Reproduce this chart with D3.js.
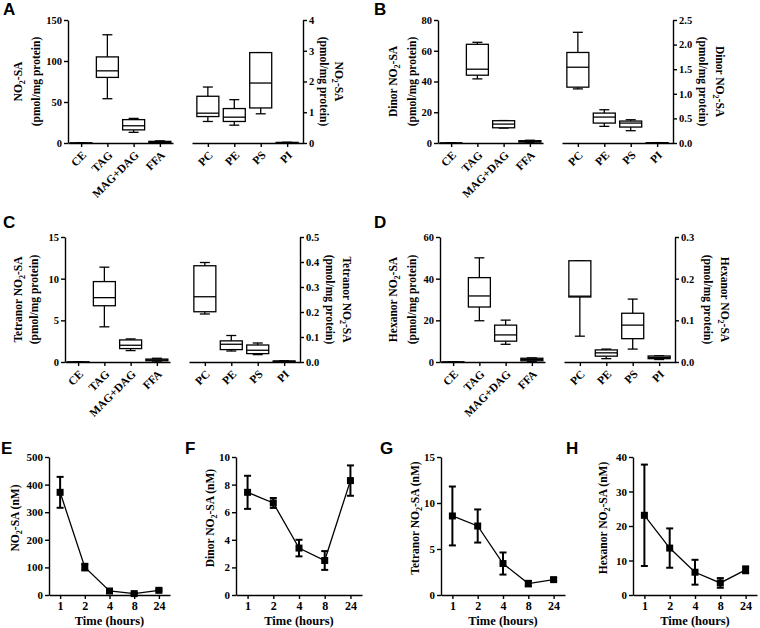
<!DOCTYPE html>
<html>
<head>
<meta charset="utf-8">
<script src="https://cdn.jsdelivr.net/npm/d3@7"></script>
<style>
  body { margin: 0; background: #fff; }
  text { font-family: "Liberation Serif", "Times New Roman", serif; font-weight: bold; fill: #000; }
  .letter { font-family: "Liberation Sans", Arial, sans-serif; font-size: 17px; font-weight: bold; }
  .axis path, .axis line { stroke: #000; stroke-width: 1.4px; }
</style>
</head>
<body>
<script>
// ---------------- DATA ----------------
const neutralCats = ["CE", "TAG", "MAG+DAG", "FFA"];
const phosphoCats = ["PC", "PE", "PS", "PI"];

// box stats: [min, q1, median, q3, max]
const aNeutral  = [[0,0,0,0,0],[54,80,88,105,132],[13,16,21,28.5,30],[0.3,0.8,1.3,2.0,2.6]];
const aPhospho  = [[0.70,0.86,0.97,1.52,1.82],[0.58,0.70,0.84,1.12,1.41],[0.95,1.14,1.95,2.94,2.94],[0,0.005,0.01,0.02,0.025]];
const bNeutral  = [[0,0,0,0,0],[41.7,44.1,48,64.2,65.5],[9.7,9.9,12.3,14.5,14.6],[0.3,0.6,1.0,1.5,1.8]];
const bPhospho  = [[1.10,1.135,1.54,1.84,2.25],[0.338,0.405,0.527,0.608,0.676],[0.25,0.324,0.405,0.446,0.473],[0,0,0.003,0.005,0.008]];
const cNeutral  = [[0,0,0,0,0],[4.22,6.75,7.72,9.65,11.38],[1.37,1.61,2.01,2.65,2.77],[0.1,0.15,0.25,0.35,0.45]];
const cPhospho  = [[0.192,0.201,0.261,0.385,0.398],[0.044,0.0496,0.071,0.0845,0.106],[0.0295,0.0335,0.047,0.068,0.076],[0.001,0.002,0.003,0.004,0.005]];
const dNeutral  = [[0,0,0,0,0],[19.8,26.4,31.7,40.5,50],[8.5,10.0,13.0,17.7,20.1],[0.3,0.6,1.2,1.8,2.0]];
const dPhospho  = [[0.062,0.156,0.158,0.243,0.243],[0.008,0.014,0.022,0.029,0.031],[0.031,0.056,0.0885,0.117,0.151],[0.006,0.008,0.011,0.0144,0.015]];

const aLeftTicks = [0,50,100,150],  aRightTicks = [0,1,2,3,4];
const bLeftTicks = [0,20,40,60,80], bRightTicks = [0,0.5,1.0,1.5,2.0,2.5];
const cLeftTicks = [0,5,10,15],     cRightTicks = [0,0.1,0.2,0.3,0.4,0.5];
const dLeftTicks = [0,20,40,60],    dRightTicks = [0,0.1,0.2,0.3];

const timeLabels = ["1", "2", "4", "8", "24"];
const eMean = [372, 101, 14.5, 5, 17],   eErr = [56, 12, 4, 3, 4];
const fMean = [7.44, 6.67, 3.4, 2.5, 8.29], fErr = [1.2, 0.36, 0.6, 0.68, 1.1];
const gMean = [8.59, 7.5, 3.42, 1.24, 1.67], gErr = [3.2, 1.8, 1.2, 0.3, 0.15];
const hMean = [23.1, 13.6, 6.6, 3.5, 7.3],  hErr = [14.7, 5.7, 3.6, 1.4, 1.0];
const eTicks = [0,100,200,300,400,500], fTicks = [0,2,4,6,8,10], gTicks = [0,5,10,15], hTicks = [0,10,20,30,40];

// ---------------- DRAW ----------------
const svg = d3.select("body").append("svg").attr("width", 760).attr("height", 628).style("display", "block");

function titleText(parent, x, y, rot, prefix, suffix, size) {
  const t = parent.append("text")
    .attr("transform", `translate(${x},${y}) rotate(${rot})`)
    .attr("text-anchor", "middle").attr("dy", "0.35em")
    .style("font-size", size + "px");
  t.append("tspan").text(prefix + "NO");
  t.append("tspan").attr("dy", 3).style("font-size", (size * 0.7) + "px").text("2");
  t.append("tspan").attr("dy", -3).text("-SA" + suffix);
  return t;
}
function plainText(parent, x, y, rot, s, size) {
  return parent.append("text")
    .attr("transform", `translate(${x},${y}) rotate(${rot})`)
    .attr("text-anchor", "middle").attr("dy", "0.35em")
    .style("font-size", size + "px").text(s);
}
function styleAxis(g, fs) {
  g.attr("class", "axis");
  g.selectAll(".tick text").style("font-size", fs + "px").style("font-family", "Liberation Serif").style("font-weight", "bold");
}

function drawBoxes(g, cats, stats, x, y) {
  const bw = 22, cw = 10;
  cats.forEach((c, i) => {
    const [mn, q1, md, q3, mx] = stats[i];
    const cx = x(c);
    const gg = g.append("g").attr("stroke", "#000").attr("stroke-width", 1.3).attr("fill", "none");
    gg.append("line").attr("x1", cx).attr("x2", cx).attr("y1", y(mx)).attr("y2", y(q3));
    gg.append("line").attr("x1", cx).attr("x2", cx).attr("y1", y(q1)).attr("y2", y(mn));
    gg.append("line").attr("x1", cx - cw/2).attr("x2", cx + cw/2).attr("y1", y(mx)).attr("y2", y(mx));
    gg.append("line").attr("x1", cx - cw/2).attr("x2", cx + cw/2).attr("y1", y(mn)).attr("y2", y(mn));
    gg.append("rect").attr("x", cx - bw/2).attr("width", bw)
      .attr("y", y(q3)).attr("height", Math.max(0.01, y(q1) - y(q3))).attr("fill", "#fff");
    gg.append("line").attr("x1", cx - bw/2).attr("x2", cx + bw/2).attr("y1", y(md)).attr("y2", y(md));
  });
}

function boxPanel(cfg) {
  const g = svg.append("g");
  const yL = d3.scaleLinear().domain([cfg.leftTicks[0], cfg.leftTicks[cfg.leftTicks.length-1]]).range([cfg.bottom, cfg.top]);
  const yR = d3.scaleLinear().domain([cfg.rightTicks[0], cfg.rightTicks[cfg.rightTicks.length-1]]).range([cfg.bottom, cfg.top]);
  const xL = d3.scalePoint().domain(neutralCats).range([cfg.x0, cfg.x0 + 105]).padding(0.5);
  const xR = d3.scalePoint().domain(phosphoCats).range([cfg.x0 + 124, cfg.x0 + 235]).padding(0.6);

  drawBoxes(g, neutralCats, cfg.neutral, xL, yL);
  drawBoxes(g, phosphoCats, cfg.phospho, xR, yR);

  const al = g.append("g").attr("transform", `translate(${cfg.x0},0)`)
    .call(d3.axisLeft(yL).tickValues(cfg.leftTicks).tickSize(4).tickSizeOuter(0).tickPadding(2).tickFormat(d3.format("d")));
  styleAxis(al, 10.5);
  const ar = g.append("g").attr("transform", `translate(${cfg.x0 + 235},0)`)
    .call(d3.axisRight(yR).tickValues(cfg.rightTicks).tickSize(4).tickSizeOuter(0).tickPadding(2).tickFormat(d3.format(cfg.rightFmt)));
  styleAxis(ar, 10.5);

  [[xL, neutralCats], [xR, phosphoCats]].forEach(([xs, cats]) => {
    const ab = g.append("g").attr("transform", `translate(0,${cfg.bottom})`)
      .call(d3.axisBottom(xs).tickSize(4).tickSizeOuter(0).tickFormat(() => ""));
    styleAxis(ab, 10.5);
    ab.selectAll(".tick text").remove();
    cats.forEach(c => {
      g.append("text").attr("text-anchor", "end").attr("dy", "0.35em")
        .attr("transform", `translate(${xs(c) + 3},${cfg.bottom + 10}) rotate(-45)`)
        .style("font-size", "11.5px").text(c);
    });
  });

  const cy = (cfg.top + cfg.bottom) / 2;
  titleText(g, cfg.titleL[0], cy, -90, cfg.prefix, "", 11.5);
  plainText(g, cfg.titleL[1], cy, -90, "(pmol/mg protein)", 11.5);
  titleText(g, cfg.titleR[0], cy, 90, cfg.prefix, "", 11.5);
  plainText(g, cfg.titleR[1], cy, 90, "(pmol/mg protein)", 11.5);
  svg.append("text").attr("class", "letter").attr("x", cfg.letterXY[0]).attr("y", cfg.letterXY[1]).text(cfg.letter);
}

function timePanel(cfg) {
  const g = svg.append("g");
  const x = d3.scalePoint().domain(timeLabels).range([cfg.x0, cfg.x1]).padding(0.45);
  const y = d3.scaleLinear().domain([cfg.ticks[0], cfg.ticks[cfg.ticks.length-1]]).range([cfg.bottom, cfg.top]);
  const pts = timeLabels.map((t, i) => ({ t, m: cfg.mean[i], e: cfg.err[i] }));

  g.append("path").datum(pts).attr("fill", "none").attr("stroke", "#000").attr("stroke-width", 1.3)
    .attr("d", d3.line().x(d => x(d.t)).y(d => y(d.m)));
  const eb = g.append("g").attr("stroke", "#000").attr("stroke-width", 2);
  pts.forEach(d => {
    const cx = x(d.t);
    eb.append("line").attr("x1", cx).attr("x2", cx).attr("y1", y(d.m + d.e)).attr("y2", y(d.m - d.e));
    eb.append("line").attr("x1", cx - 3.5).attr("x2", cx + 3.5).attr("y1", y(d.m + d.e)).attr("y2", y(d.m + d.e));
    eb.append("line").attr("x1", cx - 3.5).attr("x2", cx + 3.5).attr("y1", y(d.m - d.e)).attr("y2", y(d.m - d.e));
  });
  g.selectAll("rect.pt").data(pts).join("rect").attr("class", "pt")
    .attr("x", d => x(d.t) - 3.5).attr("y", d => y(d.m) - 3.5).attr("width", 7).attr("height", 7).attr("fill", "#000");

  const ay = g.append("g").attr("transform", `translate(${cfg.x0},0)`)
    .call(d3.axisLeft(y).tickValues(cfg.ticks).tickSize(4).tickSizeOuter(0).tickPadding(2).tickFormat(d3.format("d")));
  styleAxis(ay, 11);
  const ax = g.append("g").attr("transform", `translate(0,${cfg.bottom})`)
    .call(d3.axisBottom(x).tickSize(4).tickSizeOuter(0).tickPadding(2));
  styleAxis(ax, 12);
  g.append("text").attr("x", (cfg.x0 + cfg.x1) / 2).attr("y", 625).attr("text-anchor", "middle")
    .style("font-size", "12.5px").text("Time (hours)");
  titleText(g, cfg.titleX, 518, -90, cfg.prefix, " (nM)", 11.5);
  svg.append("text").attr("class", "letter").attr("x", cfg.letterXY[0]).attr("y", cfg.letterXY[1]).text(cfg.letter);
}

boxPanel({ letter: "A", letterXY: [3, 15], x0: 68, top: 20, bottom: 143, neutral: aNeutral, phospho: aPhospho,
  leftTicks: aLeftTicks, rightTicks: aRightTicks, rightFmt: "d", prefix: "", titleL: [18, 36], titleR: [339, 324] });
boxPanel({ letter: "B", letterXY: [374, 15], x0: 438, top: 20, bottom: 143, neutral: bNeutral, phospho: bPhospho,
  leftTicks: bLeftTicks, rightTicks: bRightTicks, rightFmt: ".1f", prefix: "Dinor ", titleL: [393, 412], titleR: [720, 703] });
boxPanel({ letter: "C", letterXY: [3, 228], x0: 65, top: 237, bottom: 362, neutral: cNeutral, phospho: cPhospho,
  leftTicks: cLeftTicks, rightTicks: cRightTicks, rightFmt: ".1f", prefix: "Tetranor ", titleL: [18, 34], titleR: [347, 330] });
boxPanel({ letter: "D", letterXY: [374, 228], x0: 440, top: 237, bottom: 362, neutral: dNeutral, phospho: dPhospho,
  leftTicks: dLeftTicks, rightTicks: dRightTicks, rightFmt: ".1f", prefix: "Hexanor ", titleL: [393, 412], titleR: [725, 708] });

timePanel({ letter: "E", letterXY: [1, 454], x0: 49, x1: 170, top: 457, bottom: 595, mean: eMean, err: eErr, ticks: eTicks, prefix: "", titleX: 15 });
timePanel({ letter: "F", letterXY: [185, 454], x0: 236, x1: 362, top: 457, bottom: 595, mean: fMean, err: fErr, ticks: fTicks, prefix: "Dinor ", titleX: 210 });
timePanel({ letter: "G", letterXY: [380, 454], x0: 441, x1: 565, top: 457, bottom: 595, mean: gMean, err: gErr, ticks: gTicks, prefix: "Tetranor ", titleX: 415 });
timePanel({ letter: "H", letterXY: [566, 454], x0: 633, x1: 757, top: 457, bottom: 595, mean: hMean, err: hErr, ticks: hTicks, prefix: "Hexanor ", titleX: 603 });
</script>
</body>
</html>
